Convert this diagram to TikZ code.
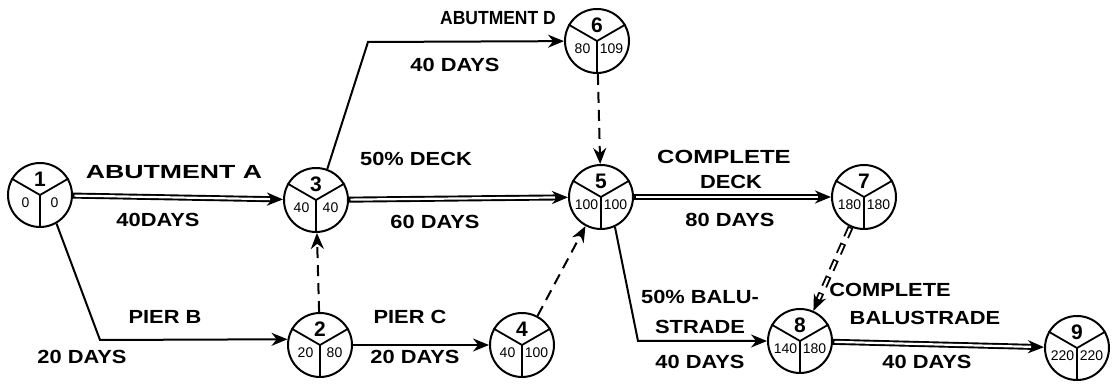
\documentclass[tikz,border=0pt]{standalone}
\usepackage{fontspec}
\setmainfont{Liberation Sans}
\usetikzlibrary{arrows.meta}

\tikzset{
  evt/.style={draw, line width=2pt, circle, minimum size=64pt, inner sep=0pt},
  evnum/.style={inner sep=0pt, font=\fontsize{21}{23}\selectfont\bfseries},
  evtime/.style={inner sep=0pt, font=\fontsize{14}{16}\selectfont},
  job/.style={inner sep=0pt, xscale=1.15, font=\fontsize{19}{22}\selectfont\bfseries},
  tip/.style={-{Stealth[length=16pt,width=13pt]}},
  act/.style={line width=2pt, tip},
  % critical activity: heavy line with a white core, so it reads as a double line
  crit/.style={line width=6pt, tip,
    postaction={draw=white, line width=2.2pt, -, shorten <=1.5pt, shorten >=13pt}},
  dummy/.style={act, dash pattern=on 11pt off 7pt},
  critdummy/.style={crit, dash pattern=on 11pt off 7pt}
}

% event circle: name, position, number, earliest, latest
\newcommand{\evt}[5]{%
  \node[evt] (#1) at #2 {};
  \draw[line width=1.8pt] (#1.center) -- (#1.150) (#1.center) -- (#1.30) (#1.center) -- (#1.south);
  \node[evnum] (#1-n) at ([yshift=16pt]#1.center) {#3};
  \node[evtime] (#1-e) at ([xshift=-14.5pt,yshift=-8pt]#1.center) {#4};
  \node[evtime] (#1-l) at ([xshift=14.5pt,yshift=-8pt]#1.center) {#5};
}

\begin{document}
\begin{tikzpicture}[x=1pt,y=1pt]
\path[use as bounding box,fill=white] (0,0) rectangle (1120,385);

% events
\evt{n1}{(40,190)}{1}{0}{0}
\evt{n2}{(320,40)}{2}{20}{80}
\evt{n3}{(316,185)}{3}{40}{40}
\evt{n4}{(522,40)}{4}{40}{100}
\evt{n5}{(601,188)}{5}{100}{100}
\evt{n6}{(597,344)}{6}{80}{109}
\evt{n7}{(864,188)}{7}{180}{180}
\evt{n8}{(800,44)}{8}{140}{180}
\evt{n9}{(1077,37)}{9}{220}{220}

% bends of the routed activities
\coordinate (b12) at (100,45);
\coordinate (b36) at (368,343);
\coordinate (b58) at (638,44);

% critical path
\draw[crit] (n1) -- (n3);
\draw[crit] (n3) -- (n5);
\draw[crit] (n5) -- (n7);
\draw[critdummy] (n7) -- (n8);
\draw[crit] (n8) -- (n9);

% other activities
\draw[act] (n1.-60) -- (b12) -- (n2.170);
\draw[act] (n3.70) -- (b36) -- (n6);
\draw[act] (n2) -- (n4);
\draw[act] (n5.-65) -- (b58) -- (n8);

% dummies
\draw[dummy] (n2) -- (n3);
\draw[dummy] (n4) -- (n5);
\draw[dummy] (n6) -- (n5);

% activity labels
\node[job, xscale=1.22] (la1) at (174,213) {ABUTMENT A};
\node[job] (la2) at (158,165) {40DAYS};
\node[job, xscale=0.8] (ld1) at (498,367) {ABUTMENT D};
\node[job] (ld2) at (455,320) {40 DAYS};
\node[job] (ldk1) at (416,226) {50\% DECK};
\node[job] (ldk2) at (435,163) {60 DAYS};
\node[job, xscale=1.1] (lcd1) at (724,228) {COMPLETE};
\node[job] (lcd2) at (731,203) {DECK};
\node[job] (lcd3) at (730,165) {80 DAYS};
\node[job] (lb1) at (165,68) {PIER B};
\node[job] (lb2) at (82,28) {20 DAYS};
\node[job] (lc1) at (410,68) {PIER C};
\node[job] (lc2) at (415,28) {20 DAYS};
\node[job] (lbl1) at (700,88) {50\% BALU-};
\node[job] (lbl2) at (700,58) {STRADE};
\node[job] (lbl3) at (700,23) {40 DAYS};
\node[job] (lcb1) at (890,95) {COMPLETE};
\node[job] (lcb2) at (925,67) {BALUSTRADE};
\node[job] (lcb3) at (927,23) {40 DAYS};
\end{tikzpicture}
\end{document}
